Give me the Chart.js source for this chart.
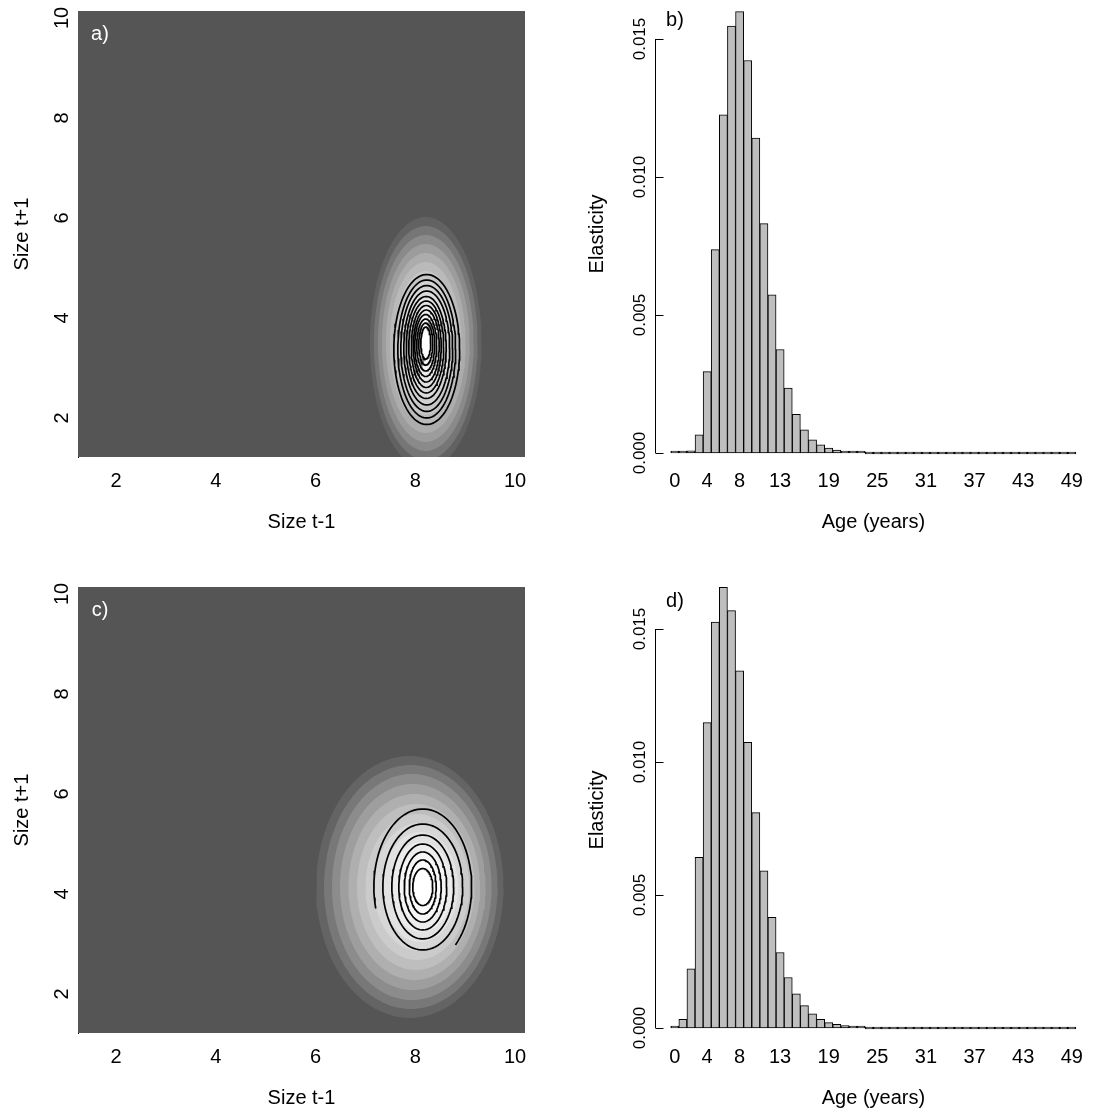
<!DOCTYPE html>
<html>
<head>
<meta charset="utf-8">
<script src="https://cdn.jsdelivr.net/npm/chart.js@4.4.1/dist/chart.umd.min.js"></script>
<style>
  body { margin: 0; background: #fff; width: 1095px; height: 1113px; position: relative; overflow: hidden; }
  .panel { position: absolute; width: 545px; height: 560px; }
</style>
</head>
<body>
<div class="panel" style="left:0;top:0"><canvas id="pa" width="545" height="560"></canvas></div>
<div class="panel" style="left:550px;top:0"><canvas id="pb" width="545" height="560"></canvas></div>
<div class="panel" style="left:0;top:576px"><canvas id="pc" width="545" height="560"></canvas></div>
<div class="panel" style="left:550px;top:576px"><canvas id="pd" width="545" height="560"></canvas></div>
<script>
// ---- data ----
const sizeTicks = [2, 4, 6, 8, 10];
const ages = [0, 1, 2, 3, 4, 5, 6, 7, 8, 9, 10, 11, 12, 13, 14, 15, 16, 17, 18, 19,
  20, 21, 22, 23, 24, 25, 26, 27, 28, 29, 30, 31, 32, 33, 34, 35, 36, 37, 38, 39,
  40, 41, 42, 43, 44, 45, 46, 47, 48, 49];
const ageLabels = [0, 4, 8, 13, 19, 25, 31, 37, 43, 49];
const elasTicks = [0, 0.005, 0.010, 0.015];

// panel b) elasticity by age
const elasB = [0.00001, 0.00002, 0.00008, 0.00066, 0.00295, 0.00737, 0.01225, 0.01547, 0.01599, 0.01422,
  0.01141, 0.00831, 0.00573, 0.00375, 0.00235, 0.00140, 0.00084, 0.00048, 0.00030, 0.00018,
  0.00011, 0.00006, 0.00004, 0.00002, 0, 0, 0, 0, 0, 0,
  0, 0, 0, 0, 0, 0, 0, 0, 0, 0,
  0, 0, 0, 0, 0, 0, 0, 0, 0, 0];
// panel d) elasticity by age
const elasD = [0.00002, 0.00033, 0.00222, 0.00642, 0.01148, 0.01526, 0.01657, 0.01569, 0.01343, 0.01074,
  0.00810, 0.00591, 0.00416, 0.00284, 0.00190, 0.00128, 0.00084, 0.00053, 0.00033, 0.00020,
  0.00014, 0.00009, 0.00007, 0.00003, 0, 0, 0, 0, 0, 0,
  0, 0, 0, 0, 0, 0, 0, 0, 0, 0,
  0, 0, 0, 0, 0, 0, 0, 0, 0, 0];

// panel a) kernel surface: grey bands (outer -> inner) and contour rings
const glowA_cx = [8.21, 8.21, 8.21, 8.21, 8.21, 8.21, 8.21, 8.21, 8.21, 8.21, 8.21, 8.21, 8.21, 8.22];
const glowA_cy = [3.50, 3.50, 3.50, 3.50, 3.50, 3.50, 3.50, 3.50, 3.50, 3.50, 3.50, 3.50, 3.50, 3.50];
const glowA_rx = [1.12, 1.04, 0.96, 0.88, 0.80, 0.72, 0.64, 0.56, 0.48, 0.40, 0.32, 0.24, 0.16, 0.09];
const glowA_ry = [2.52, 2.34, 2.16, 1.98, 1.80, 1.62, 1.44, 1.26, 1.08, 0.90, 0.72, 0.54, 0.36, 0.22];
const glowA_grey = [98, 118, 138, 156, 172, 186, 198, 209, 219, 228, 236, 243, 249, 255];
const contA_cx = [8.23, 8.23, 8.23, 8.23, 8.22, 8.22, 8.22, 8.22, 8.21, 8.21, 8.21, 8.21];
const contA_cy = [3.37, 3.38, 3.39, 3.40, 3.41, 3.42, 3.43, 3.44, 3.45, 3.46, 3.48, 3.50];
const contA_rx = [0.66, 0.58, 0.52, 0.46, 0.40, 0.35, 0.30, 0.26, 0.22, 0.18, 0.14, 0.10];
const contA_ry = [1.50, 1.38, 1.26, 1.14, 1.02, 0.92, 0.82, 0.72, 0.62, 0.52, 0.42, 0.32];

// panel c) kernel surface
const glowC_cx = [7.89, 7.91, 7.93, 7.95, 7.98, 8.01, 8.04, 8.07, 8.10, 8.12, 8.14, 8.15, 8.15];
const glowC_cy = [4.14, 4.14, 4.14, 4.14, 4.14, 4.14, 4.14, 4.14, 4.14, 4.14, 4.14, 4.14, 4.14];
const glowC_rx = [1.88, 1.74, 1.60, 1.46, 1.32, 1.18, 1.04, 0.90, 0.76, 0.62, 0.48, 0.35, 0.23];
const glowC_ry = [2.62, 2.44, 2.26, 2.06, 1.86, 1.66, 1.46, 1.28, 1.10, 0.90, 0.70, 0.52, 0.36];
const glowC_grey = [100, 120, 140, 158, 175, 190, 203, 215, 226, 236, 245, 251, 255];
const contC_cx = [8.15, 8.15, 8.15, 8.15, 8.15, 8.15, 8.15];
const contC_cy = [4.14, 4.14, 4.14, 4.14, 4.14, 4.14, 4.14];
const contC_rx = [0.98, 0.80, 0.62, 0.48, 0.37, 0.27, 0.20];
const contC_ry = [1.56, 1.26, 1.04, 0.86, 0.70, 0.54, 0.37];
const contC_from = [-48, 0, 0, 0, 0, 0, 0];   // degrees; outer ring is open at lower left
const contC_to = [197, 360, 360, 360, 360, 360, 360];

const FONT = 'Liberation Sans, Arial, Helvetica, sans-serif';

function ellipse(cx, cy, rx, ry, a0, a1) {
  const pts = [];
  for (let a = a0; a <= a1; a += 4) {
    const t = a * Math.PI / 180;
    pts.push({ x: cx + rx * Math.cos(t), y: cy + ry * Math.sin(t) });
  }
  return pts;
}

// R-like axis bits: rotated y labels, inward ticks, panel letters, image background
const rAxis = {
  id: 'rAxis',
  beforeDatasetsDraw(chart, args, opts) {
    if (!opts.bg) return;
    const a = chart.chartArea, ctx = chart.ctx;
    ctx.save();
    ctx.fillStyle = opts.bg;
    ctx.fillRect(a.left, a.top, a.right - a.left, a.bottom - a.top);
    ctx.restore();
  },
  afterDraw(chart, args, opts) {
    const ctx = chart.ctx, y = chart.scales.y, a = chart.chartArea;
    ctx.save();
    if (opts.axisLine) {
      const p0 = y.getPixelForValue(y.ticks[0].value);
      const p1 = y.getPixelForValue(y.ticks[y.ticks.length - 1].value);
      const x = Math.round(a.left) + 0.5;
      ctx.strokeStyle = '#000';
      ctx.lineWidth = 1;
      ctx.beginPath();
      ctx.moveTo(x, p0); ctx.lineTo(x, p1);
      y.ticks.forEach(t => {
        const p = Math.round(y.getPixelForValue(t.value)) + 0.5;
        ctx.moveTo(x, p); ctx.lineTo(x + opts.tickLen, p);
      });
      ctx.stroke();
    }
    ctx.fillStyle = '#000';
    ctx.font = opts.labelSize + 'px ' + FONT;
    ctx.textAlign = 'center';
    ctx.textBaseline = 'middle';
    y.ticks.forEach(t => {
      ctx.save();
      ctx.translate(opts.labelX, y.getPixelForValue(t.value));
      ctx.rotate(-Math.PI / 2);
      ctx.fillText(t.value.toFixed(opts.decimals), 0, 0);
      ctx.restore();
    });
    ctx.fillStyle = opts.letterColor;
    ctx.font = '20px ' + FONT;
    ctx.fillText(opts.letter, opts.letterX, opts.letterY);
    ctx.restore();
  }
};

function heatChart(id, letter, glow, cont) {
  const datasets = [];
  glow.cx.forEach((cx, i) => {
    const g = glow.grey[i];
    datasets.push({
      data: ellipse(cx, glow.cy[i], glow.rx[i], glow.ry[i], 0, 360),
      fill: 'shape', backgroundColor: `rgb(${g},${g},${g})`,
      borderWidth: 0, pointRadius: 0, tension: 0, order: 100 - i
    });
  });
  cont.cx.forEach((cx, i) => {
    datasets.push({
      data: ellipse(cx, cont.cy[i], cont.rx[i], cont.ry[i], cont.from ? cont.from[i] : 0, cont.to ? cont.to[i] : 360),
      fill: false, borderColor: '#000', borderWidth: 1.7,
      pointRadius: 0, tension: 0, order: 0
    });
  });
  return new Chart(document.getElementById(id), {
    type: 'line',
    data: { datasets },
    plugins: [rAxis],
    options: {
      responsive: false, animation: false, devicePixelRatio: 1,
      layout: { padding: { top: 11, right: 20, left: 0, bottom: 0 } },
      plugins: {
        legend: { display: false }, tooltip: { enabled: false },
        rAxis: { bg: '#555555', labelX: 62, labelSize: 20, decimals: 0,
                 letter: letter, letterX: 100, letterY: 34, letterColor: '#ffffff' }
      },
      scales: {
        x: {
          type: 'linear', min: 1.238, max: 10.2,
          afterBuildTicks: s => { s.ticks = sizeTicks.map(v => ({ value: v })); },
          afterFit: s => { s.height = 103; },
          grid: { display: false, drawTicks: false }, border: { display: false },
          ticks: { color: '#000', font: { family: FONT, size: 20 }, padding: 12 },
          title: { display: true, text: 'Size t-1', color: '#000',
                   font: { family: FONT, size: 20 }, padding: { top: 0, bottom: 26 } }
        },
        y: {
          type: 'linear', min: 1.22, max: 10.14,
          afterBuildTicks: s => { s.ticks = sizeTicks.map(v => ({ value: v })); },
          afterFit: s => { s.width = 78; },
          grid: { display: false, drawTicks: false },
          border: { display: true, color: '#000', width: 1 },
          ticks: { display: false },
          title: { display: true, text: 'Size t+1', color: '#000',
                   font: { family: FONT, size: 20 }, padding: { top: 10, bottom: 0 } }
        }
      }
    }
  });
}

function barChart(id, letter, values, yMin, yMax, letterY) {
  return new Chart(document.getElementById(id), {
    type: 'bar',
    data: {
      datasets: [{
        data: ages.map((a, i) => ({ x: a, y: values[i] })),
        backgroundColor: '#bebebe', borderColor: '#000', borderWidth: 1,
        borderSkipped: false, barPercentage: 1, categoryPercentage: 1,
        minBarLength: 2, clip: false
      }]
    },
    plugins: [rAxis],
    options: {
      responsive: false, animation: false, devicePixelRatio: 1,
      layout: { padding: { top: 11, right: 1, left: 0, bottom: 0 } },
      plugins: {
        legend: { display: false }, tooltip: { enabled: false },
        rAxis: { axisLine: true, tickLen: 8, labelX: 90, labelSize: 17, decimals: 3,
                 letter: letter, letterX: 125, letterY: letterY, letterColor: '#000000' }
      },
      scales: {
        x: {
          type: 'linear', min: -2.44, max: 51.48, offset: false,
          afterBuildTicks: s => { s.ticks = ageLabels.map(v => ({ value: v })); },
          afterFit: s => { s.height = 103; },
          grid: { display: false, drawTicks: false }, border: { display: false },
          ticks: { color: '#000', font: { family: FONT, size: 20 }, padding: 12 },
          title: { display: true, text: 'Age (years)', color: '#000',
                   font: { family: FONT, size: 20 }, padding: { top: 0, bottom: 26 } }
        },
        y: {
          type: 'linear', min: yMin, max: yMax,
          afterBuildTicks: s => { s.ticks = elasTicks.map(v => ({ value: v })); },
          afterFit: s => { s.width = 105; },
          grid: { display: false, drawTicks: false }, border: { display: false },
          ticks: { display: false },
          title: { display: true, text: 'Elasticity', color: '#000',
                   font: { family: FONT, size: 20 }, padding: { top: 35, bottom: 0 } }
        }
      }
    }
  });
}

heatChart('pa', 'a)',
  { cx: glowA_cx, cy: glowA_cy, rx: glowA_rx, ry: glowA_ry, grey: glowA_grey },
  { cx: contA_cx, cy: contA_cy, rx: contA_rx, ry: contA_ry });
heatChart('pc', 'c)',
  { cx: glowC_cx, cy: glowC_cy, rx: glowC_rx, ry: glowC_ry, grey: glowC_grey },
  { cx: contC_cx, cy: contC_cy, rx: contC_rx, ry: contC_ry, from: contC_from, to: contC_to });
barChart('pb', 'b)', elasB, -0.000145, 0.016014, 20);
barChart('pd', 'd)', elasD, -0.000188, 0.01658, 25);
</script>
</body>
</html>
